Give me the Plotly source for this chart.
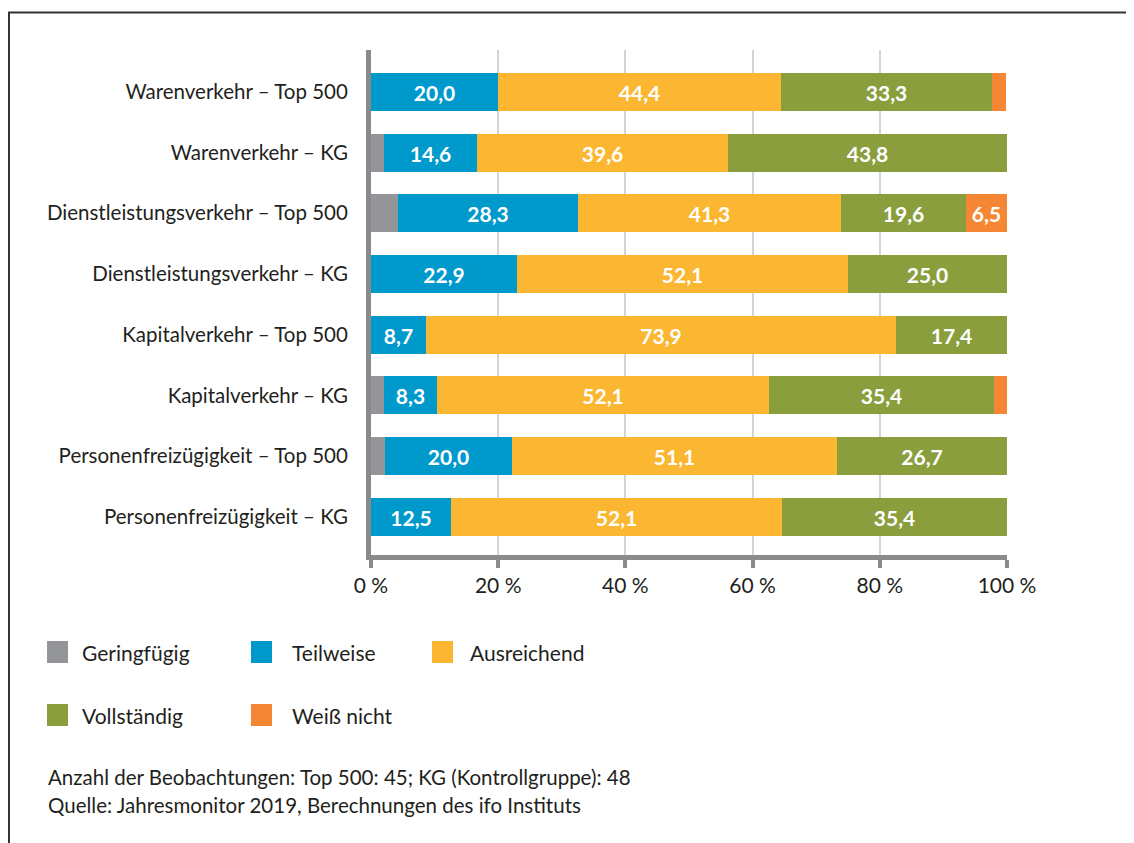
import plotly.graph_objects as go

categories = [
    "Warenverkehr – Top 500",
    "Warenverkehr – KG",
    "Dienstleistungsverkehr – Top 500",
    "Dienstleistungsverkehr – KG",
    "Kapitalverkehr – Top 500",
    "Kapitalverkehr – KG",
    "Personenfreizügigkeit – Top 500",
    "Personenfreizügigkeit – KG",
]
series_names = ["Geringfügig", "Teilweise", "Ausreichend", "Vollständig", "Weiß nicht"]
geringfuegig = [0.0, 2.0, 4.3, 0.0, 0.0, 2.1, 2.2, 0.0]
teilweise = [20.0, 14.6, 28.3, 22.9, 8.7, 8.3, 20.0, 12.5]
ausreichend = [44.4, 39.6, 41.3, 52.1, 73.9, 52.1, 51.1, 52.1]
vollstaendig = [33.3, 43.8, 19.6, 25.0, 17.4, 35.4, 26.7, 35.4]
weiss_nicht = [2.2, 0.0, 6.5, 0.0, 0.0, 2.1, 0.0, 0.0]
x_ticks = [0, 20, 40, 60, 80, 100]
note_lines = [
    "Anzahl der Beobachtungen: Top 500: 45; KG (Kontrollgruppe): 48",
    "Quelle: Jahresmonitor 2019, Berechnungen des ifo Instituts",
]

colors = ["#939598", "#0099cc", "#fbb731", "#8a9e3e", "#f58634"]
all_series = [geringfuegig, teilweise, ausreichend, vollstaendig, weiss_nicht]

FONT = "Lato, 'Open Sans', sans-serif"
OFF = 8  # page body margin
W, H = 1134 - OFF, 843 - OFF
L, T = 371 - OFF, 50 - OFF
PLOT_R, PLOT_B = 1007 - OFF, 555 - OFF
R, B = W - PLOT_R, H - PLOT_B
PW, PH = W - L - R, H - T - B


def px(xr):
    return (xr - OFF - L) / PW


def py(yr):
    return (PLOT_B - (yr - OFF)) / PH


fig = go.Figure()
ypos = list(range(len(categories)))
for name, vals, col in zip(series_names, all_series, colors):
    txt = [f"{v:.1f}".replace(".", ",") if v >= 5 else "" for v in vals]
    fig.add_trace(go.Bar(
        y=ypos, x=vals, orientation="h", name=name,
        marker=dict(color=col, line=dict(width=0)),
        width=0.626,
        text=txt, textposition="inside", insidetextanchor="middle",
        textangle=0,
        textfont=dict(color="white", size=21, family=FONT, weight="bold"),
        hoverinfo="skip", showlegend=False,
    ))

shapes = []
annotations = []
# frame
shapes.append(dict(type="line", xref="paper", yref="paper",
                   x0=px(8), x1=px(1150), y0=py(12.5), y1=py(12.5),
                   line=dict(color="#333333", width=2)))
shapes.append(dict(type="line", xref="paper", yref="paper",
                   x0=px(9), x1=px(9), y0=py(12), y1=py(870),
                   line=dict(color="#333333", width=2)))

# manual legend: (square x, row y, label x)
leg_pos = [(47, 652, 80), (251, 652, 290), (432, 652, 468), (47, 715, 80), (251, 715, 290)]
for (lx, ly, tx), name, col in zip(leg_pos, series_names, colors):
    shapes.append(dict(type="rect", xref="paper", yref="paper",
                       x0=px(lx), x1=px(lx + 21), y0=py(ly - 11), y1=py(ly + 11),
                       fillcolor=col, line=dict(width=0)))
    annotations.append(dict(xref="paper", yref="paper", x=px(tx), y=py(ly),
                            text=name, showarrow=False, xanchor="left", yanchor="middle",
                            font=dict(size=21, color="#231f20", family=FONT)))

for i, line in enumerate(note_lines):
    annotations.append(dict(xref="paper", yref="paper", x=px(46), y=py(777 + 28 * i),
                            text=line, showarrow=False, xanchor="left", yanchor="middle",
                            font=dict(size=20.5, color="#231f20", family=FONT)))

fig.update_layout(
    barmode="stack",
    width=W, height=H,
    margin=dict(l=L, r=R, t=T, b=B, pad=0),
    paper_bgcolor="white", plot_bgcolor="white",
    font=dict(family=FONT, color="#231f20", size=21),
    shapes=shapes, annotations=annotations,
    bargap=0,
    uniformtext=dict(mode=False),
)
fig.update_xaxes(
    range=[0, 100], tickvals=x_ticks, ticktext=[f"{v} %" for v in x_ticks],
    showgrid=True, gridcolor="#d4d4d4", gridwidth=2,
    showline=True, linecolor="#8a8a8c", linewidth=5,
    ticks="outside", ticklen=8, tickwidth=4, tickcolor="#8a8a8c",
    tickfont=dict(size=21, color="#231f20", family=FONT),
    zeroline=False, fixedrange=True,
)
fig.update_yaxes(
    range=[7.63, -0.69], tickvals=ypos, ticktext=categories,
    showgrid=False, showline=True, linecolor="#8a8a8c", linewidth=5,
    ticks="", ticklabelstandoff=14,
    tickfont=dict(size=20.5, color="#231f20", family=FONT),
    zeroline=False, fixedrange=True,
)

fig.write_html("out.html", config={"displayModeBar": False})
